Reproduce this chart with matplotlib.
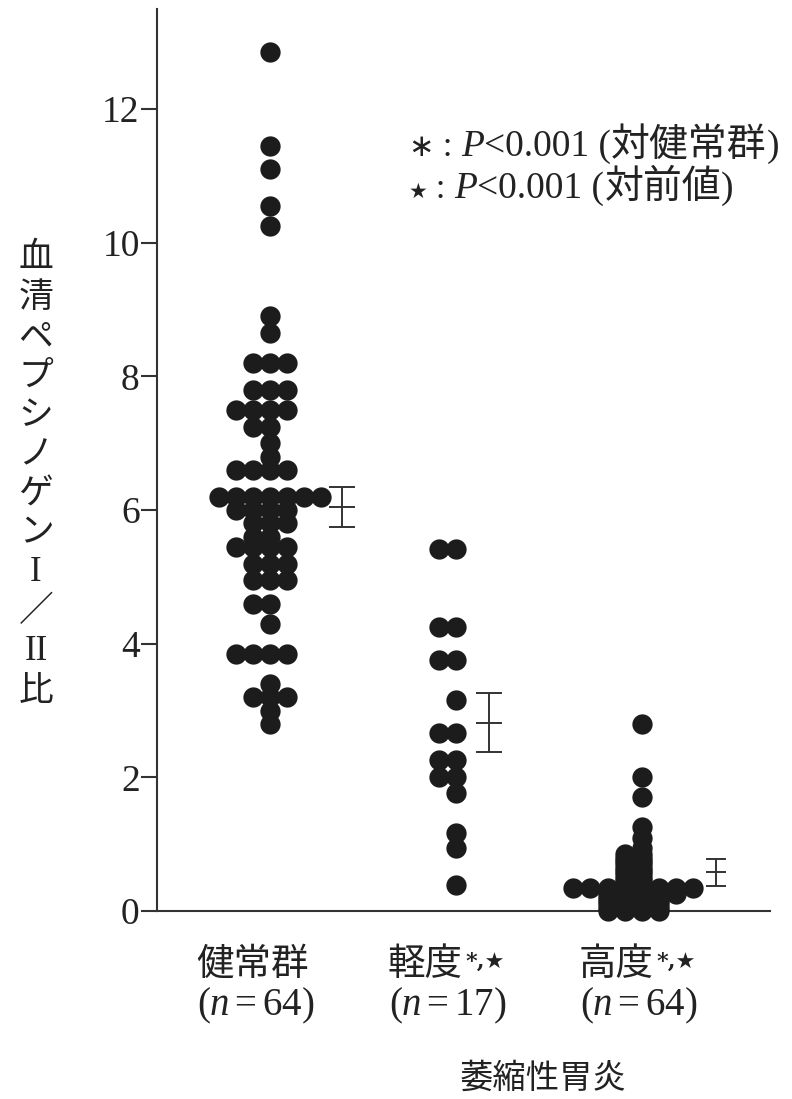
import matplotlib.pyplot as plt
import numpy as np
from matplotlib.offsetbox import AnnotationBbox, HPacker, TextArea

plt.rcParams["font.family"] = ["Noto Sans CJK JP", "DejaVu Sans"]
plt.rcParams["mathtext.fontset"] = "custom"
plt.rcParams["mathtext.rm"] = "Liberation Serif"
plt.rcParams["mathtext.it"] = "Liberation Serif:italic"

group_names = ["健常群", "軽度", "高度"]
group_sizes = [64, 17, 64]
group_marks = ["", "*,★", "*,★"]
xlabel_text = "萎縮性胃炎"
ylabel_chars = ["血", "清", "ペ", "プ", "シ", "ノ", "ゲ", "ン", "I", "／", "II", "比"]
legend_symbols = ["∗", "★"]
legend_p = "<0.001"
legend_refs = ["対健常群", "対前値"]
yticks = [0, 2, 4, 6, 8, 10, 12]

# serum pepsinogen I/II ratio, one entry per subject
healthy = [12.86, 11.45, 11.1, 10.55, 10.25, 8.9, 8.65,
           8.2, 8.2, 8.2, 7.8, 7.8, 7.8, 7.5, 7.5, 7.5, 7.5, 7.25, 7.25, 7.0, 6.8,
           6.6, 6.6, 6.6, 6.6, 6.2, 6.2, 6.2, 6.2, 6.2, 6.2, 6.2,
           6.0, 6.0, 6.0, 6.0, 5.8, 5.8, 5.8, 5.6, 5.6,
           5.45, 5.45, 5.45, 5.45, 5.2, 5.2, 5.2, 4.95, 4.95, 4.95, 4.6, 4.6, 4.3,
           3.85, 3.85, 3.85, 3.85, 3.4, 3.2, 3.2, 3.2, 3.0, 2.8]
mild = [5.42, 5.42, 4.25, 4.25, 3.76, 3.76, 3.16, 2.66, 2.66,
        2.26, 2.26, 2.0, 2.0, 1.77, 1.17, 0.94, 0.39]
severe = [2.8, 2.0, 1.7, 1.25, 1.1, 0.95,
          0.85, 0.85, 0.8, 0.8, 0.75, 0.75, 0.7, 0.7, 0.65, 0.65, 0.6, 0.6,
          0.55, 0.55, 0.5, 0.5, 0.45, 0.45, 0.4, 0.4,
          0.35, 0.35, 0.35, 0.35, 0.35, 0.35, 0.35, 0.35,
          0.3, 0.3, 0.3, 0.3, 0.3, 0.25, 0.25, 0.25, 0.25, 0.25,
          0.2, 0.2, 0.2, 0.2, 0.15, 0.15, 0.15, 0.15, 0.1, 0.1, 0.1, 0.1,
          0.05, 0.05, 0.05, 0.05, 0.0, 0.0, 0.0, 0.0]

# mean +/- SE per group
means = [6.05, 2.82, 0.58]
sems = [0.30, 0.44, 0.20]


def swarm_offsets(values, step):
    """Spread equal values sideways: 0, -1, +1, -2, +2, ... steps."""
    vals = np.asarray(values)
    offsets = np.zeros(len(vals))
    for v in np.unique(vals):
        idx = np.where(vals == v)[0]
        k = np.arange(len(idx))
        slots = np.where(k % 2 == 1, -(k + 1) // 2, k // 2)
        offsets[idx] = slots * step
    return offsets


ink = "#1c1c1c"
text_col = "#222222"
line_col = "#333333"
cjk = ["Noto Sans CJK JP", "DejaVu Sans"]
serif = "Liberation Serif"

fig = plt.figure(figsize=(7.92, 10.99), dpi=100)
ax = fig.add_axes([157 / 792, 188 / 1099, 613 / 792, 902 / 1099])

positions = [1, 2, 3]
bar_x = [1.39, 2.18, 3.40]
cap = [9.7, 9.4, 7.2]

for pos, vals in zip(positions, [healthy, mild, severe]):
    offs = swarm_offsets(vals, 0.092)
    ax.plot(pos + offs, vals, "o", ms=14.6, color=ink, mec="none",
            clip_on=False, zorder=3)

for i in range(3):
    ax.errorbar(bar_x[i], means[i], yerr=sems[i], fmt="none", ecolor=line_col,
                elinewidth=1.4, capsize=cap[i], capthick=1.4)
    ax.plot(bar_x[i], means[i], marker="_", ms=2 * cap[i], mew=1.4, color=line_col)

ax.set_xlim(0.392, 3.69)
ax.set_ylim(0, 13.5)
for side in ["top", "right"]:
    ax.spines[side].set_visible(False)
for side in ["left", "bottom"]:
    ax.spines[side].set_linewidth(1.5)
    ax.spines[side].set_color(line_col)

ax.set_yticks(yticks)
ax.set_yticklabels([str(t) for t in yticks], fontfamily=serif,
                   fontsize=27, color=text_col)
ax.tick_params(axis="y", length=11.5, width=1.5, pad=1, color=line_col)
ax.tick_params(axis="x", bottom=False, labelbottom=False)

# group labels under the axis
label_x = [0.925, 1.957, 2.984]
xt = ax.get_xaxis_transform()
for i in range(3):
    n_txt = ax.text(label_x[i], -0.105, rf"$(n = {group_sizes[i]})$", transform=xt,
                    ha="center", va="center", fontsize=28, color=text_col)
    name = ax.annotate(group_names[i], xy=(0, 1), xycoords=n_txt, xytext=(-1, 1),
                       textcoords="offset points", ha="left", va="bottom",
                       fontsize=27, color=text_col)
    if group_marks[i]:
        ax.annotate(group_marks[i], xy=(1, 1), xycoords=name, xytext=(2, -4),
                    textcoords="offset points", ha="left", va="top",
                    fontsize=16, fontfamily=["DejaVu Serif", "DejaVu Sans"],
                    fontweight="bold", color=text_col)

ax.text(2.468, -0.185, xlabel_text, transform=xt, ha="center", va="center",
        fontsize=24, color=text_col)

# vertical axis title, one character per line
for k, ch in enumerate(ylabel_chars):
    y_px = 258 + 39.3 * k
    fam = serif if ch in ("I", "II") else cjk
    fig.text(36 / 792, 1 - y_px / 1099, ch, ha="center", va="center",
             fontsize=25, fontfamily=fam, color=text_col)

# significance notes
symbol_size = [22, 15]
for k in range(2):
    parts = [
        TextArea(legend_symbols[k], textprops=dict(fontsize=symbol_size[k], fontfamily=["DejaVu Sans"],
                                                   color=text_col)),
        TextArea(" : ", textprops=dict(fontsize=25, fontfamily=serif, color=text_col)),
        TextArea("P", textprops=dict(fontsize=27, fontfamily=serif, fontstyle="italic", color=text_col)),
        TextArea(legend_p + " (", textprops=dict(fontsize=27, fontfamily=serif, color=text_col)),
        TextArea(legend_refs[k], textprops=dict(fontsize=28, fontfamily=cjk, color=text_col)),
        TextArea(")", textprops=dict(fontsize=27, fontfamily=serif, color=text_col)),
    ]
    box = HPacker(children=parts, align="baseline", pad=0, sep=0)
    ab = AnnotationBbox(box, (1.745, 11.47 - 0.63 * k), xycoords="data",
                        box_alignment=(0, 0.5), frameon=False, pad=0)
    ax.add_artist(ab)

fig.savefig("out.png", dpi=100, facecolor="white")
